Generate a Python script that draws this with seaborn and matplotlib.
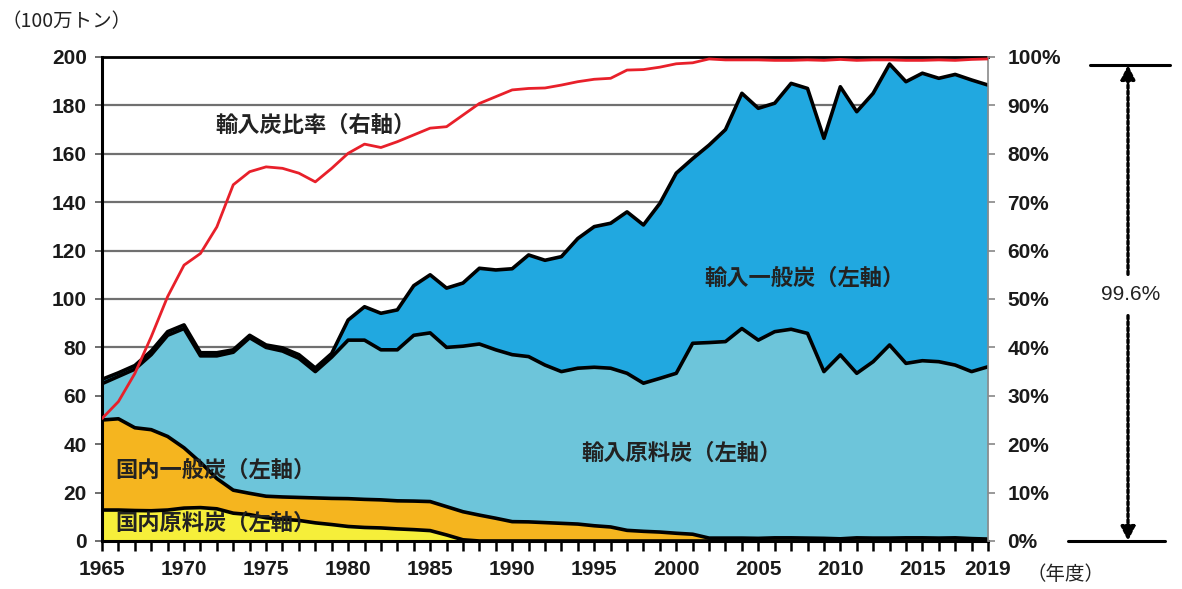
import numpy as np
import pandas as pd
import matplotlib
matplotlib.use('Agg')
import matplotlib.pyplot as plt
import seaborn as sns
from matplotlib.lines import Line2D

# ---------------- data (million tonnes; ratio in %) ----------------
years = list(range(1965, 2020))

domestic_coking = [12.8, 12.8, 12.6, 12.5, 12.8, 13.6, 13.8, 13.3, 11.5, 10.9,
                   9.6, 9.0, 8.5, 7.5, 6.8, 6.0, 5.6, 5.4, 5.0, 4.7,
                   4.3, 2.5, 0.5, 0, 0, 0, 0, 0, 0, 0,
                   0, 0, 0, 0, 0, 0, 0, 0, 0, 0,
                   0, 0, 0, 0, 0, 0, 0, 0, 0, 0,
                   0, 0, 0, 0, 0]
domestic_steam = [37.2, 37.7, 34.2, 33.5, 30.4, 24.9, 18.7, 12.5, 9.5, 8.8,
                  8.9, 9.2, 9.5, 10.3, 10.8, 11.5, 11.6, 11.6, 11.6, 11.8,
                  12.0, 11.7, 11.6, 10.7, 9.4, 8.0, 7.9, 7.6, 7.3, 7.0,
                  6.3, 5.8, 4.4, 4.0, 3.7, 3.2, 2.8, 1.2, 1.2, 1.2,
                  1.1, 1.3, 1.3, 1.2, 1.1, 0.9, 1.3, 1.2, 1.2, 1.3,
                  1.3, 1.2, 1.3, 1.0, 0.8]
import_coking = [15.0, 17.5, 24.2, 31.0, 41.8, 49.3, 44.0, 50.7, 57.0, 64.3,
                 61.5, 60.3, 57.5, 52.2, 58.4, 65.5, 65.8, 62.0, 62.4, 68.5,
                 69.7, 65.8, 68.4, 70.7, 69.6, 69.0, 68.3, 65.1, 62.7, 64.4,
                 65.5, 65.6, 64.9, 61.2, 63.5, 66.1, 78.9, 80.8, 81.2, 86.6,
                 81.9, 85.2, 86.2, 84.6, 68.9, 76.0, 68.0, 72.9, 79.8, 72.1,
                 73.2, 72.9, 71.4, 69.0, 71.2]
import_steam = [1.8, 1.5, 1.5, 1.5, 1.5, 1.5, 1.3, 1.3, 1.0, 1.0,
                1.0, 1.3, 1.5, 1.5, 1.5, 8.3, 13.8, 15.1, 16.5, 20.5,
                24.0, 24.5, 26.1, 31.3, 33.0, 35.5, 42.0, 43.3, 47.5, 53.6,
                58.1, 59.9, 66.7, 65.4, 72.3, 82.7, 76.3, 81.6, 87.6, 97.2,
                95.8, 94.4, 101.6, 101.2, 96.4, 110.8, 108.1, 110.9, 116.1, 116.4,
                118.8, 117.1, 120.1, 120.5, 116.4]
import_ratio = [25.3, 28.8, 34.6, 42.2, 50.5, 57.0, 59.4, 64.9, 73.6, 76.3,
                77.3, 77.0, 76.0, 74.2, 77.0, 80.1, 82.0, 81.3, 82.5, 83.9,
                85.3, 85.6, 88.0, 90.4, 91.8, 93.2, 93.5, 93.6, 94.2, 94.9,
                95.4, 95.6, 97.3, 97.4, 97.9, 98.6, 98.8, 99.6, 99.4, 99.4,
                99.4, 99.3, 99.3, 99.4, 99.3, 99.5, 99.3, 99.4, 99.4, 99.3,
                99.3, 99.4, 99.3, 99.5, 99.6]

series_names = ['国内原料炭', '国内一般炭', '輸入原料炭', '輸入一般炭']
series_colors = ['#f6ef3a', '#f5b51f', '#6dc5da', '#21a8e0']
x_tick_years = [1965, 1970, 1975, 1980, 1985, 1990, 1995, 2000, 2005, 2010, 2015, 2019]
left_ticks = [0, 20, 40, 60, 80, 100, 120, 140, 160, 180, 200]
right_ticks = [0, 10, 20, 30, 40, 50, 60, 70, 80, 90, 100]

# ---------------- style ----------------
sns.set_theme(style='white')
plt.rcParams['font.family'] = ['Noto Sans CJK JP', 'DejaVu Sans']
num_font = 'Liberation Sans'

df = pd.DataFrame({'year': years,
                   series_names[0]: domestic_coking,
                   series_names[1]: domestic_steam,
                   series_names[2]: import_coking,
                   series_names[3]: import_steam,
                   'ratio': import_ratio})
cum = df[series_names].cumsum(axis=1)

fig = plt.figure(figsize=(11.82, 5.89), dpi=100)
ax = fig.add_axes([102 / 1182, 1 - 541 / 589, 886 / 1182, 484 / 589])

lower = np.zeros(len(df))
for name, col in zip(series_names, series_colors):
    upper = cum[name].values
    ax.fill_between(df['year'], lower, upper, color=col, lw=0, zorder=2)
    lower = upper
for name in series_names:
    sns.lineplot(x=df['year'], y=cum[name], ax=ax, color='black', lw=2.6,
                 zorder=3, legend=False)

ax.set_xlim(1965, 2019)
ax.set_ylim(0, 200)
ax.set_xlabel('')
ax.set_ylabel('')
ax.set_axisbelow(True)
ax.yaxis.grid(True, color='#707070', lw=1.6)
ax.xaxis.grid(False)

ax.set_xticks(x_tick_years)
ax.set_xticks(years, minor=True)
ax.set_xticklabels([str(y) for y in x_tick_years])
ax.set_yticks(left_ticks)
ax.set_yticklabels([str(v) for v in left_ticks])
ax.tick_params(axis='x', which='both', direction='out', length=7, width=1.8,
               color='black', bottom=True, pad=7)
ax.tick_params(axis='x', which='major', labelsize=15)
ax.tick_params(axis='y', direction='out', length=5, width=1.2, color='#555555',
               left=True, labelsize=15, pad=6)
for lbl in ax.get_xticklabels() + ax.get_yticklabels():
    lbl.set_fontfamily(num_font)
    lbl.set_fontweight('bold')
    lbl.set_color('#1a1a1a')

for s in ['left', 'bottom']:
    ax.spines[s].set_color('black')
    ax.spines[s].set_linewidth(2.2)
ax.spines['top'].set_color('black')
ax.spines['top'].set_linewidth(2.0)
ax.spines['right'].set_visible(False)

# ---------------- ratio on right axis ----------------
ax2 = ax.twinx()
sns.lineplot(x=df['year'], y=df['ratio'], ax=ax2, color='#e8202a', lw=2.0,
             legend=False, zorder=5)
ax2.set_ylim(0, 100)
ax2.set_xlim(1965, 2019)
ax2.set_ylabel('')
ax2.set_yticks(right_ticks)
ax2.set_yticklabels([f'{v}%' for v in right_ticks])
ax2.tick_params(axis='y', direction='out', length=5, width=1.2, color='#888888',
                right=True, labelsize=15, pad=9)
for lbl in ax2.get_yticklabels():
    lbl.set_fontfamily(num_font)
    lbl.set_fontweight('bold')
    lbl.set_color('#1a1a1a')
for s in ['left', 'top', 'bottom']:
    ax2.spines[s].set_visible(False)
ax2.spines['right'].set_color('#8a8a8a')
ax2.spines['right'].set_linewidth(1.2)
ax2.grid(False)

# ---------------- in-chart labels ----------------
lab_kw = dict(ha='center', va='center', fontsize=16, fontweight='bold',
              color='#222222', zorder=6)
ax.text(1978.0, 171.9, '輸入炭比率（右軸）', **lab_kw)
ax.text(2007.8, 108.7, '輸入一般炭（左軸）', **lab_kw)
ax.text(2000.3, 36.4, '輸入原料炭（左軸）', **lab_kw)
ax.text(1971.9, 29.3, '国内一般炭（左軸）', **lab_kw)
ax.text(1971.9, 7.4, '国内原料炭（左軸）', **lab_kw)

fig.text(67 / 1182, 1 - 22 / 589, '（100万トン）', ha='center', va='center',
         fontsize=14, color='#222222')
fig.text(1065 / 1182, 1 - 575 / 589, '（年度）', ha='center', va='center',
         fontsize=14, color='#222222')

# ---------------- 99.6% bracket ----------------
y_top = 1 - 65 / 589
y_bot = 1 - 541 / 589
x_arr = 1128 / 1182
fig.add_artist(Line2D([1090 / 1182, 1170 / 1182], [y_top, y_top], color='black', lw=2.2,
                      transform=fig.transFigure))
fig.add_artist(Line2D([1068 / 1182, 1165 / 1182], [y_bot, y_bot], color='black', lw=2.2,
                      transform=fig.transFigure))
y_txt = 1 - 295 / 589
arrow_kw = dict(arrowstyle='-|>,head_length=0.7,head_width=0.35', color='black',
                lw=2.4, linestyle=(0, (1, 0.8)), shrinkA=0, shrinkB=0)
ax.annotate('', xy=(x_arr, y_top), xytext=(x_arr, y_txt + 0.035),
            xycoords='figure fraction', textcoords='figure fraction',
            arrowprops=arrow_kw, annotation_clip=False)
ax.annotate('', xy=(x_arr, y_bot), xytext=(x_arr, y_txt - 0.035),
            xycoords='figure fraction', textcoords='figure fraction',
            arrowprops=arrow_kw, annotation_clip=False)
fig.text(1131 / 1182, y_txt, '99.6%', ha='center', va='center', fontsize=15,
         family=num_font, color='#222222')

fig.savefig('out.png', dpi=100, facecolor='white')
